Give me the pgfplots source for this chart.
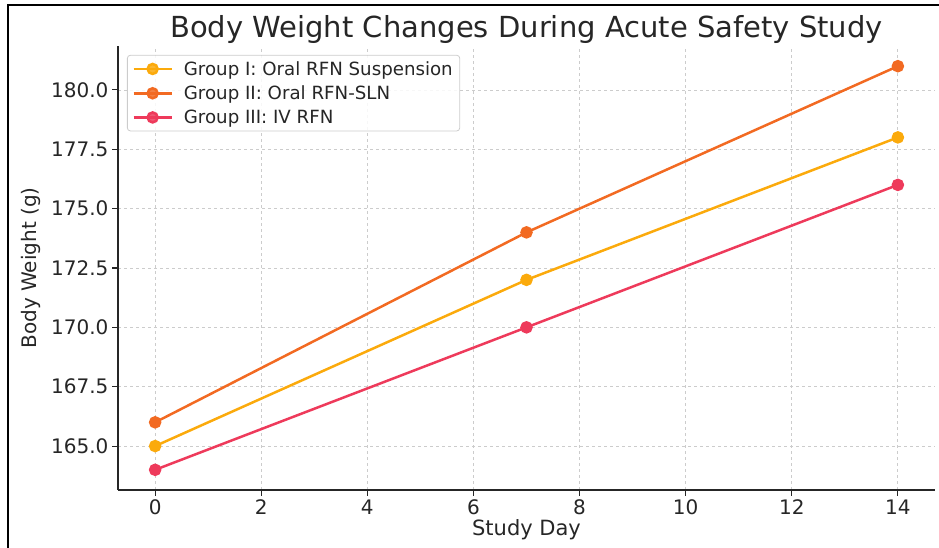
\documentclass[border=0pt]{standalone}
\usepackage{pgfplots}
\pgfplotsset{compat=1.18}
\usepackage{fontspec}
\setmainfont{DejaVu Sans}

\definecolor{txt}{HTML}{262626}
\definecolor{gridc}{HTML}{CCCCCC}
\definecolor{gOne}{HTML}{FBAA0C}
\definecolor{gTwo}{HTML}{F26A22}
\definecolor{gThree}{HTML}{EE3A5B}

\begin{document}
\begin{tikzpicture}[x=1pt,y=1pt]
\path[use as bounding box] (0,0) rectangle (939,548);
% outer frame (left and top edges)
\draw[black, line width=2.6pt] (8,-5) -- (8,543) -- (945,543);

\begin{axis}[
  at={(118pt,58pt)}, anchor=south west,
  scale only axis, width=817pt, height=444pt,
  xmin=-0.7, xmax=14.7, ymin=163.15, ymax=181.85,
  axis lines*=left,
  axis line style={txt, line width=1.3pt},
  xtick={0,2,...,14},
  ytick={165,167.5,170,172.5,175,177.5,180},
  yticklabel style={/pgf/number format/.cd, fixed, fixed zerofill, precision=1},
  tick align=outside,
  major tick length=6pt,
  tick style={txt, line width=1.1pt},
  every tick label/.append style={font=\fontsize{20}{22}\selectfont, text=txt},
  /pgf/number format/assume math mode=true,
  grid=major,
  major grid style={gridc, dashed, line width=0.8pt},
  xlabel={Study Day},
  ylabel={Body Weight (g)},
  label style={text=txt},
  xlabel style={font=\fontsize{21}{23}\selectfont, at={(axis description cs:0.5,0)}, anchor=base, yshift=-46pt},
  ylabel style={font=\fontsize{20}{22}\selectfont, at={(axis description cs:0,0.5)}, anchor=base, rotate=0, yshift=81pt},
  legend style={at={(0.011,0.98)}, anchor=north west,
    draw=gridc, line width=0.8pt, rounded corners=3pt, fill=white, fill opacity=0.85, text opacity=1,
    font=\fontsize{18.2}{20}\selectfont, text=txt,
    row sep=5pt, inner xsep=5pt, inner ysep=4pt,
    /tikz/every odd column/.append style={column sep=9pt}},
  legend cell align=left,
  legend image code/.code={\draw[#1, mark repeat=2, mark phase=2] plot coordinates {(0pt,0pt) (19pt,0pt) (38pt,0pt)};},
  every axis plot/.append style={line width=2.5pt, mark=*, mark size=5pt, mark options={solid}},
]
\addplot[gOne, mark options={fill=gOne, draw=gOne}] coordinates {(0,165) (7,172) (14,178)};
\addlegendentry{Group I: Oral RFN Suspension}
\addplot[gTwo, mark options={fill=gTwo, draw=gTwo}] coordinates {(0,166) (7,174) (14,181)};
\addlegendentry{Group II: Oral RFN-SLN}
\addplot[gThree, mark options={fill=gThree, draw=gThree}] coordinates {(0,164) (7,170) (14,176)};
\addlegendentry{Group III: IV RFN}
\end{axis}

\node[anchor=base, text=txt, font=\fontsize{29}{31}\selectfont] at (526.5,510) {Body Weight Changes During Acute Safety Study};
\end{tikzpicture}
\end{document}
